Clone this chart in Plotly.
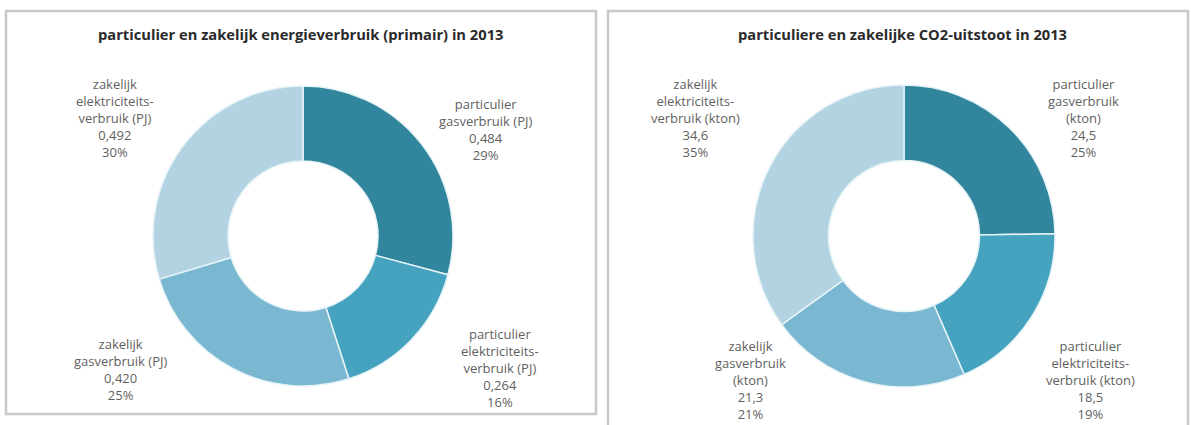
import plotly.graph_objects as go

W, H = 1191, 425

# ---- data ----
energy_labels = ["particulier<br>gasverbruik (PJ)",
                 "particulier<br>elektriciteits-<br>verbruik (PJ)",
                 "zakelijk<br>gasverbruik (PJ)",
                 "zakelijk<br>elektriciteits-<br>verbruik (PJ)"]
energy_values = [0.484, 0.264, 0.420, 0.492]
energy_text = ["0,484", "0,264", "0,420", "0,492"]
energy_pct = ["29%", "16%", "25%", "30%"]

co2_labels = ["particulier<br>gasverbruik<br>(kton)",
              "particulier<br>elektriciteits-<br>verbruik (kton)",
              "zakelijk<br>gasverbruik<br>(kton)",
              "zakelijk<br>elektriciteits-<br>verbruik (kton)"]
co2_values = [24.5, 18.5, 21.3, 34.6]
co2_text = ["24,5", "18,5", "21,3", "34,6"]
co2_pct = ["25%", "19%", "21%", "35%"]

titles = ["particulier en zakelijk energieverbruik (primair) in 2013",
          "particuliere en zakelijke CO2-uitstoot in 2013"]

colors = ["#31859C", "#45A3C0", "#7AB7D1", "#B3D3E2"]
FONT = "Open Sans"
TXT = "#5F5F5F"


def px(x):
    return x / W


def py(y):
    return 1 - y / H


fig = go.Figure()

for vals, labs, dom in [(energy_values, energy_labels, ([153, 453], [386, 86])),
                        (co2_values, co2_labels, ([753, 1055], [387, 85]))]:
    fig.add_trace(go.Pie(values=vals, labels=[l.replace("<br>", " ") for l in labs],
                         sort=False, direction="clockwise", rotation=0, hole=0.5,
                         marker=dict(colors=colors, line=dict(color="#E6F3F7", width=1.5)),
                         textinfo="none", hoverinfo="label+value+percent",
                         domain=dict(x=[px(dom[0][0]), px(dom[0][1])],
                                     y=[py(dom[1][0]), py(dom[1][1])]),
                         showlegend=False))

annotations = []
for t, cx in zip(titles, [300, 902]):
    annotations.append(dict(text="<b>" + t + "</b>", x=px(cx), y=py(34), xref="paper", yref="paper",
                            showarrow=False, xanchor="center", yanchor="middle",
                            font=dict(family=FONT, size=14.7, color="#2A2A2A")))

# label anchor positions (pixel centers, top of text block)
energy_pos = [(485, 93), (500, 323), (120, 333), (115, 73)]
co2_pos = [(1083, 73), (1090, 335), (750, 335), (695, 73)]

for labels, txts, ps, pos in [(energy_labels, energy_text, energy_pct, energy_pos),
                              (co2_labels, co2_text, co2_pct, co2_pos)]:
    for lab, tx, p, (x, y) in zip(labels, txts, ps, pos):
        annotations.append(dict(text=lab + "<br>" + tx + "<br>" + p, x=px(x), y=py(y),
                                xref="paper", yref="paper", showarrow=False,
                                xanchor="center", yanchor="top", align="center",
                                font=dict(family=FONT, size=13, color=TXT)))

shapes = [
    dict(type="rect", xref="paper", yref="paper", x0=px(6), x1=px(596), y0=py(414), y1=py(11),
         line=dict(color="#C8C8C8", width=2.5), fillcolor="rgba(0,0,0,0)", layer="below"),
    dict(type="rect", xref="paper", yref="paper", x0=px(608), x1=px(1188), y0=py(440), y1=py(11),
         line=dict(color="#C8C8C8", width=2.5), fillcolor="rgba(0,0,0,0)", layer="below"),
]

fig.update_layout(width=W, height=H, margin=dict(l=0, r=0, t=0, b=0),
                  paper_bgcolor="white", plot_bgcolor="white",
                  annotations=annotations, shapes=shapes,
                  font=dict(family=FONT, color=TXT))

fig.write_html("out.html", config={"displayModeBar": False},
               post_script="document.body.style.margin='0';")
